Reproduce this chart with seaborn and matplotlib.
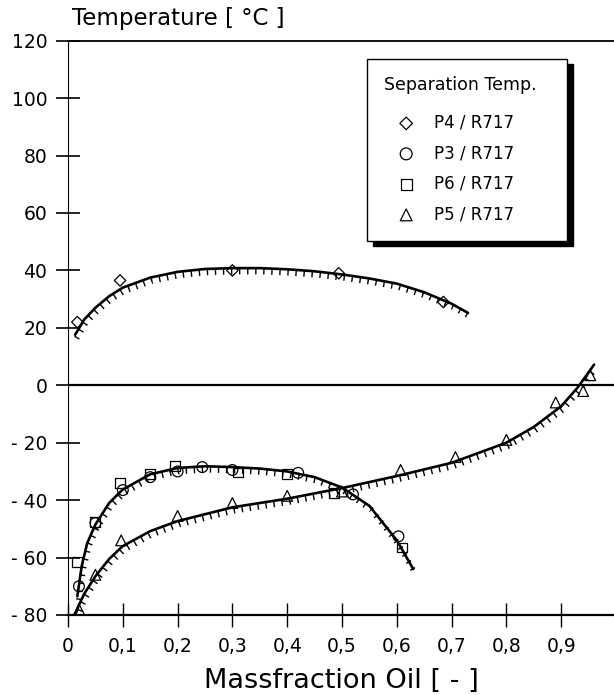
import numpy as np
import pandas as pd
import matplotlib
matplotlib.use("Agg")
import matplotlib.pyplot as plt
from matplotlib.transforms import offset_copy
import seaborn as sns

# ---------------- data ----------------
p4_x = [0.017, 0.095, 0.30, 0.494, 0.685]
p4_t = [22.0, 36.5, 40.0, 39.0, 29.0]

p3_x = [0.02, 0.05, 0.10, 0.15, 0.20, 0.245, 0.30, 0.42, 0.52, 0.603]
p3_t = [-70.0, -48.0, -36.5, -32.0, -30.0, -28.5, -29.5, -30.5, -38.0, -52.6]

p6_x = [0.017, 0.05, 0.095, 0.15, 0.196, 0.31, 0.40, 0.485, 0.61]
p6_t = [-61.5, -47.5, -34.0, -31.0, -28.2, -30.4, -31.0, -37.5, -56.5]

p5_x = [0.02, 0.05, 0.097, 0.20, 0.30, 0.40, 0.50, 0.607, 0.707, 0.80, 0.89, 0.94, 0.953]
p5_t = [-78.0, -66.0, -54.0, -45.5, -41.0, -38.5, -37.0, -29.5, -25.0, -19.0, -6.0, -2.0, 3.5]

# fitted curves
c4_x = [0.013, 0.03, 0.05, 0.075, 0.10, 0.15, 0.20, 0.25, 0.30, 0.35, 0.40, 0.45, 0.50, 0.55, 0.60, 0.65, 0.70, 0.73]
c4_t = [17.6, 23.0, 27.0, 31.0, 34.0, 37.5, 39.5, 40.5, 40.8, 40.8, 40.4, 39.7, 38.6, 37.2, 35.4, 32.4, 28.4, 25.2]

c3_x = [0.017, 0.025, 0.035, 0.05, 0.075, 0.10, 0.15, 0.20, 0.25, 0.30, 0.35, 0.40, 0.45, 0.50, 0.55, 0.60, 0.63]
c3_t = [-73.5, -63.0, -55.0, -48.5, -41.0, -36.3, -31.0, -28.8, -28.2, -28.5, -29.0, -30.0, -32.0, -35.6, -42.0, -54.0, -64.0]

c5_x = [0.013, 0.02, 0.03, 0.05, 0.075, 0.10, 0.15, 0.20, 0.30, 0.40, 0.50, 0.60, 0.70, 0.80, 0.85, 0.90, 0.93, 0.96]
c5_t = [-80.0, -76.5, -72.5, -66.5, -60.5, -56.0, -50.8, -47.3, -42.5, -39.5, -35.8, -31.6, -27.0, -20.0, -14.5, -7.3, -0.8, 7.2]

series_labels = ["P4 / R717", "P3 / R717", "P6 / R717", "P5 / R717"]
legend_title = "Separation Temp."

x_ticks = [0, 0.1, 0.2, 0.3, 0.4, 0.5, 0.6, 0.7, 0.8, 0.9]
x_ticklabels = ["0", "0,1", "0,2", "0,3", "0,4", "0,5", "0,6", "0,7", "0,8", "0,9"]
y_ticks = [-80, -60, -40, -20, 0, 20, 40, 60, 80, 100, 120]
y_ticklabels = ["- 80", "- 60", "- 40", "- 20", "0", "20", "40", "60", "80", "100", "120"]

x_label = "Massfraction Oil [ - ]"
y_label = "Temperature [ \u00b0C ]"

# ---------------- styling ----------------
sns.set_theme(style="white")
plt.rcParams["font.family"] = ["DejaVu Sans"]
plt.rcParams["text.color"] = "black"
plt.rcParams["axes.labelcolor"] = "black"
plt.rcParams["xtick.color"] = "black"
plt.rcParams["ytick.color"] = "black"

fig = plt.figure(figsize=(6.14, 6.95), dpi=100)
ax = fig.add_axes([68 / 614, 1 - 615 / 695, 548 / 614, (615 - 40.7) / 695])

# curves: solid line + hatched companion slightly below
hatch_tr = offset_copy(ax.transData, fig=fig, x=1.5, y=-3.5, units="dots")
for cx, ct in [(c4_x, c4_t), (c3_x, c3_t), (c5_x, c5_t)]:
    df = pd.DataFrame({"x": cx, "t": ct})
    sns.lineplot(data=df, x="x", y="t", sort=False, estimator=None, ax=ax,
                 color="black", linewidth=1.9, label="_nolegend_")
    sns.lineplot(data=df, x="x", y="t", sort=False, estimator=None, ax=ax,
                 color="black", linewidth=4.0, linestyle=(0, (0.25, 1.2)),
                 transform=hatch_tr, label="_nolegend_")

markers = ["D", "o", "s", "^"]
sizes = [34, 60, 50, 60]
for (sx, st), mk, sz, lab in zip([(p4_x, p4_t), (p3_x, p3_t), (p6_x, p6_t), (p5_x, p5_t)],
                                  markers, sizes, series_labels):
    df = pd.DataFrame({"x": sx, "t": st})
    sns.scatterplot(data=df, x="x", y="t", marker=mk, s=sz, ax=ax,
                    facecolor="none", edgecolor="black", linewidth=0.9,
                    label=lab, zorder=3)

ax.axhline(0, color="black", linewidth=1.6, zorder=2)

ax.set_xlim(0, 1.0)
ax.set_ylim(-80, 120)
ax.set_xticks(x_ticks)
ax.set_xticklabels(x_ticklabels, fontsize=13.5)
ax.set_yticks(y_ticks)
ax.set_yticklabels(y_ticklabels, fontsize=13.5)
ax.tick_params(axis="y", left=True, direction="inout", length=17, width=1.2, pad=6.5, colors="black")
ax.tick_params(axis="x", bottom=True, direction="inout", length=17, width=1.0, pad=7, colors="black")
ax.set_xlabel("")
ax.set_ylabel("")

ax.spines["right"].set_visible(False)
ax.spines["left"].set_linewidth(0.8)
ax.spines["top"].set_linewidth(1.3)
ax.spines["bottom"].set_linewidth(1.6)
for s in ax.spines.values():
    s.set_color("black")
ax.grid(False)

fig.text(72 / 614, 1 - 18 / 695, y_label, fontsize=16.5, ha="left", va="center", color="black")
fig.text(341 / 614, 1 - 681 / 695, x_label, fontsize=19.5, ha="center", va="center", color="black")

# legend
x0 = (367 - 68) / 548
y_top = (615 - 62) / 571
w = (567 - 367) / 548
handles, labels = ax.get_legend_handles_labels()
leg = ax.legend(handles, labels, title=legend_title, loc="upper left",
                bbox_to_anchor=(x0, y_top - 0.3, w, 0.3), mode="expand",
                frameon=True, fancybox=False, fontsize=12, title_fontsize=12.5,
                alignment="left", handlelength=2.6, handletextpad=0.4,
                labelspacing=0.75, borderpad=1.05, borderaxespad=0,
                markerscale=1.1,
                shadow={"color": "black", "alpha": 1, "ox": 4, "oy": -4})
leg.get_frame().set_edgecolor("black")
leg.get_frame().set_linewidth(1.0)
leg.get_frame().set_facecolor("white")
leg.get_frame().set_alpha(1)
leg.get_title().set_color("black")
for t in leg.get_texts():
    t.set_color("black")
leg._legend_box.sep = 14

fig.savefig("out.png", dpi=100, facecolor="white")
